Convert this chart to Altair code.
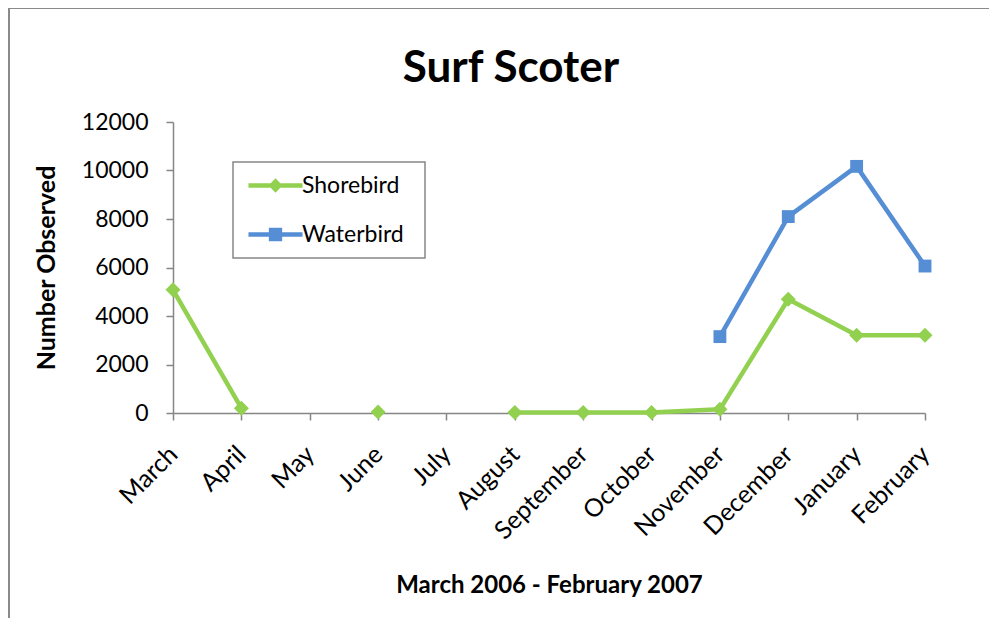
import altair as alt
import pandas as pd

# ---- data ----
months = ["March", "April", "May", "June", "July", "August", "September",
          "October", "November", "December", "January", "February"]
shorebird = [5080, 200, None, 40, None, 20, 20, 20, 150, 4690, 3210, 3210]
waterbird = [None, None, None, None, None, None, None, None, 3150, 8100, 10170, 6060]
series_names = ["Shorebird", "Waterbird"]
series_colors = ["#92D050", "#558ED5"]
series_shapes = ["diamond", "square"]
series_sizes = [225, 165]
y_ticks = [0, 2000, 4000, 6000, 8000, 10000, 12000]
chart_title = "Surf Scoter"
x_title = "March 2006 - February 2007"
y_title = "Number Observed"

W, H = 752, 291
FONT = "Lato"
GRAY = "#868686"

# legend symbols: line segment with the series marker on it
LINE_PART = "M-3.86,-0.32L3.86,-0.32L3.86,0.32L-3.86,0.32Z"
legend_paths = [
    LINE_PART + " M-1,0L0,-1.05L1,0L0,1.05Z",
    LINE_PART + " M-0.95,-0.95L0.95,-0.95L0.95,0.95L-0.95,0.95Z",
]


def series_frame(name, vals):
    rows, seg = [], 0
    for m, v in zip(months, vals):
        if v is None:
            seg += 1
            continue
        rows.append({"month": m, "count": v, "series": name, "seg": seg})
    return pd.DataFrame(rows)


frames = [series_frame(n, v) for n, v in zip(series_names, [shorebird, waterbird])]

x_enc = alt.X(
    "month:N", sort=months,
    scale=alt.Scale(type="point", domain=months, padding=0),
    axis=alt.Axis(
        title=x_title, labelAngle=-45, labelAlign="right", labelBaseline="middle",
        labelPadding=30, labelFontSize=25, tickSize=7,
        titleFontSize=24, titleFontWeight="bold", titleX=W / 2, titleY=179,
        titleBaseline="alphabetic", titleAlign="center",
    ),
)
y_enc = alt.Y(
    "count:Q",
    scale=alt.Scale(domain=[0, 12000], nice=False),
    axis=alt.Axis(
        values=y_ticks, format="d", title=y_title, labelFontSize=23, labelPadding=18,
        tickSize=7, titleFontSize=25, titleFontWeight="bold", titleAngle=-90,
        titleX=-119, titleY=H / 2, titleBaseline="alphabetic", titleAlign="center",
    ),
)

border = alt.Chart(pd.DataFrame({"a": [0]})).mark_rect(
    fillOpacity=0, stroke="#8a8a8a", strokeWidth=2
).encode(
    x=alt.value(-164), x2=alt.value(840), y=alt.value(-114), y2=alt.value(540)
)

legend_box = alt.Chart(pd.DataFrame({"a": [0]})).mark_rect(
    fill="white", stroke=GRAY, strokeWidth=1.5
).encode(
    x=alt.value(60), x2=alt.value(252), y=alt.value(40), y2=alt.value(136)
)

layers = [border, legend_box]
for i, (name, d) in enumerate(zip(series_names, frames)):
    layers.append(
        alt.Chart(d).mark_line(strokeWidth=4.5, strokeJoin="round", color=series_colors[i]).encode(
            x=x_enc, y=y_enc, detail="seg:N"
        )
    )
for i, (name, d) in enumerate(zip(series_names, frames)):
    layers.append(
        alt.Chart(d).mark_point(
            filled=True, opacity=1, shape=series_shapes[i], size=series_sizes[i]
        ).encode(
            x=x_enc, y=y_enc,
            color=alt.Color(
                "series:N",
                scale=alt.Scale(domain=[name], range=[series_colors[i]]),
                legend=alt.Legend(
                    title=None, orient="none", legendX=60, legendY=40 + 49 * i,
                    padding=12, symbolSize=196, symbolOffset=19, labelOffset=15,
                    labelFontSize=23, labelFont=FONT, labelColor="black",
                    symbolStrokeWidth=0, symbolOpacity=1, symbolType=legend_paths[i],
                ),
            ),
        )
    )

chart = alt.layer(*layers).resolve_scale(color="independent").properties(
    width=W, height=H,
    padding={"left": 165, "top": 114, "right": 64, "bottom": 205},
    autosize=alt.AutoSizeParams(type="none"),
    title=alt.TitleParams(
        chart_title, font=FONT, fontSize=44, fontWeight="bold", color="black",
        anchor="middle", frame="group", baseline="alphabetic", offset=0, dx=-38, dy=119,
    ),
).configure_view(stroke=None).configure_axis(
    grid=False, domainColor=GRAY, tickColor=GRAY, domainWidth=1.5, tickWidth=1.5,
    labelFont=FONT, titleFont=FONT, labelColor="black", titleColor="black",
)

chart.save("out.html", embed_options={"renderer": "svg", "actions": False})
